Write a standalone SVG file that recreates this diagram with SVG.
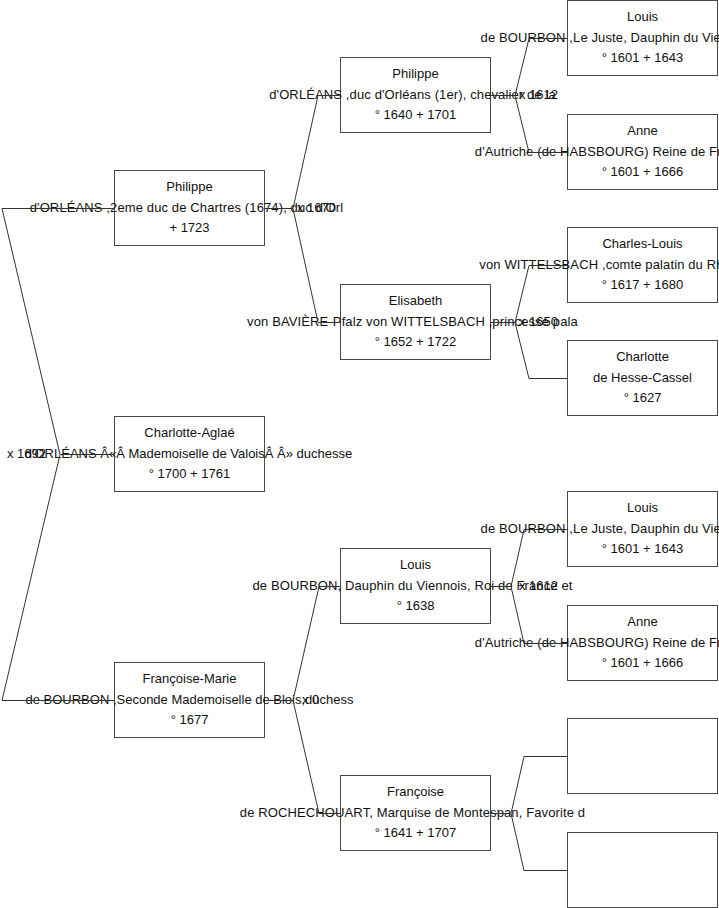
<svg xmlns="http://www.w3.org/2000/svg" width="719" height="908" viewBox="0 0 719 908">
<style>
rect.box{fill:#fff;stroke:#4a4a4a;stroke-width:1}
path.c{fill:none;stroke:#333;stroke-width:1}
text{font-family:"Liberation Sans",Arial,sans-serif;font-size:13px;fill:#111}
text.t{text-anchor:middle}
text.w{letter-spacing:0.12px}
</style>
<rect width="719" height="908" fill="#fff"/>
<g id="nodes">
<g id="n-philippe-1"><rect class="box" x="114.5" y="170.5" width="150" height="75"/>
<text class="t" x="189.5" y="191">Philippe</text>
<text class="t w" x="186.5" y="212">d'ORLÉANS ,2eme duc de Chartres (1674), duc d'Orl</text>
<text class="t" x="189.5" y="232">+ 1723</text></g>
<g id="n-charlotte-aglae"><rect class="box" x="114.5" y="416.5" width="150" height="75"/>
<text class="t" x="189.5" y="437">Charlotte-Aglaé</text>
<text class="t" x="188.5" y="458">d'ORLÉANS Â«Â Mademoiselle de ValoisÂ Â» duchesse</text>
<text class="t" x="189.5" y="478">° 1700 + 1761</text></g>
<g id="n-francoise-marie"><rect class="box" x="114.5" y="662.5" width="150" height="75"/>
<text class="t" x="189.5" y="683">Françoise-Marie</text>
<text class="t" x="189.5" y="704">de BOURBON ,Seconde Mademoiselle de Blois,duchess</text>
<text class="t" x="189.5" y="724">° 1677</text></g>
<g id="n-philippe-2"><rect class="box" x="340.5" y="57.5" width="150" height="75"/>
<text class="t" x="415.5" y="78">Philippe</text>
<text class="t w" x="412.5" y="99">d'ORLÉANS ,duc d'Orléans (1er), chevalier de la</text>
<text class="t" x="415.5" y="119">° 1640 + 1701</text></g>
<g id="n-elisabeth"><rect class="box" x="340.5" y="284.5" width="150" height="75"/>
<text class="t" x="415.5" y="305">Elisabeth</text>
<text class="t w" x="412.5" y="326">von BAVIÈRE-Pfalz von WITTELSBACH ,princesse pala</text>
<text class="t" x="415.5" y="346">° 1652 + 1722</text></g>
<g id="n-louis-2"><rect class="box" x="340.5" y="548.5" width="150" height="75"/>
<text class="t" x="415.5" y="569">Louis</text>
<text class="t w" x="412.5" y="590">de BOURBON, Dauphin du Viennois, Roi de France et</text>
<text class="t" x="415.5" y="610">° 1638</text></g>
<g id="n-francoise"><rect class="box" x="340.5" y="775.5" width="150" height="75"/>
<text class="t" x="415.5" y="796">Françoise</text>
<text class="t w" x="412.5" y="817">de ROCHECHOUART, Marquise de Montespan, Favorite d</text>
<text class="t" x="415.5" y="837">° 1641 + 1707</text></g>
<g id="n-louis-3a"><rect class="box" x="567.5" y="0.5" width="150" height="75"/>
<text class="t" x="642.5" y="21">Louis</text>
<text class="t w" x="639.5" y="42">de BOURBON ,Le Juste, Dauphin du Viennois, Roi de</text>
<text class="t" x="642.5" y="62">° 1601 + 1643</text></g>
<g id="n-anne-3a"><rect class="box" x="567.5" y="114.5" width="150" height="75"/>
<text class="t" x="642.5" y="135">Anne</text>
<text class="t w" x="639.5" y="156">d'Autriche (de HABSBOURG) Reine de France et de Na</text>
<text class="t" x="642.5" y="176">° 1601 + 1666</text></g>
<g id="n-charles-louis"><rect class="box" x="567.5" y="227.5" width="150" height="75"/>
<text class="t" x="642.5" y="248">Charles-Louis</text>
<text class="t w" x="639.5" y="269">von WITTELSBACH ,comte palatin du Rhin, électeur p</text>
<text class="t" x="642.5" y="289">° 1617 + 1680</text></g>
<g id="n-charlotte"><rect class="box" x="567.5" y="340.5" width="150" height="75"/>
<text class="t" x="642.5" y="361">Charlotte</text>
<text class="t" x="642.5" y="382">de Hesse-Cassel</text>
<text class="t" x="642.5" y="402">° 1627</text></g>
<g id="n-louis-3b"><rect class="box" x="567.5" y="491.5" width="150" height="75"/>
<text class="t" x="642.5" y="512">Louis</text>
<text class="t w" x="639.5" y="533">de BOURBON ,Le Juste, Dauphin du Viennois, Roi de</text>
<text class="t" x="642.5" y="553">° 1601 + 1643</text></g>
<g id="n-anne-3b"><rect class="box" x="567.5" y="605.5" width="150" height="75"/>
<text class="t" x="642.5" y="626">Anne</text>
<text class="t w" x="639.5" y="647">d'Autriche (de HABSBOURG) Reine de France et de Na</text>
<text class="t" x="642.5" y="667">° 1601 + 1666</text></g>
<g id="n-empty-1"><rect class="box" x="567.5" y="718.5" width="150" height="75"/></g>
<g id="n-empty-2"><rect class="box" x="567.5" y="832.5" width="150" height="75"/></g>
</g>
<g id="connectors">
<path class="c" d="M114.5,454.5 H60 L2,208.5 H114.5 M60,454.5 L2,700.5 H114.5"/>
<path class="c" d="M264.5,208.5 H293 L318,95.5 H340.5 M293,208.5 L318,322.5 H340.5"/>
<path class="c" d="M264.5,700.5 H293 L319,586.5 H340.5 M293,700.5 L319,813.5 H340.5"/>
<path class="c" d="M490.5,95.5 H515 L529,38.5 H567.5 M515,95.5 L529,152.5 H567.5"/>
<path class="c" d="M490.5,322.5 H515 L529,265.5 H567.5 M515,322.5 L529,378.5 H567.5"/>
<path class="c" d="M490.5,586.5 H511 L524,529.5 H567.5 M511,586.5 L524,643.5 H567.5"/>
<path class="c" d="M490.5,813.5 H511 L524,756.5 H567.5 M511,813.5 L524,870.5 H567.5"/>
<text x="7" y="458">x 1692</text>
<text x="297" y="212">x 1670</text>
<text x="302" y="704">x 0</text>
<text x="519" y="99">x 1612</text>
<text x="519" y="326">x 1650</text>
<text x="519" y="590">x 1612</text>
</g>
</svg>
